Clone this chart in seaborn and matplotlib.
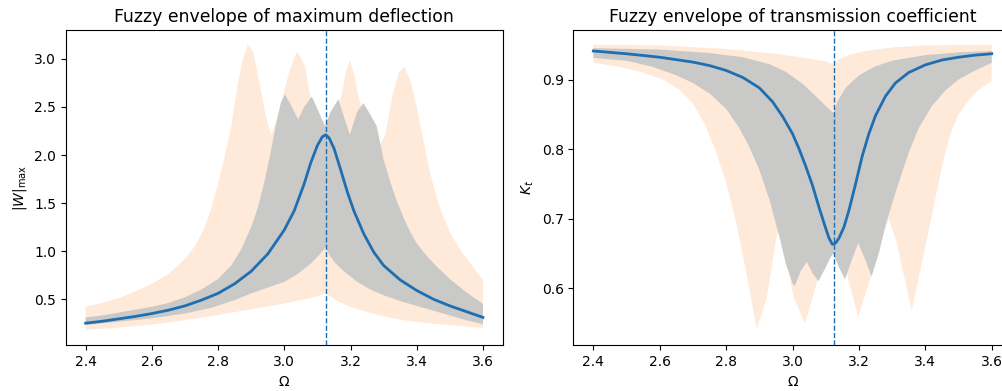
import matplotlib
matplotlib.use("Agg")
import matplotlib.pyplot as plt
import numpy as np
import pandas as pd
import seaborn as sns

# resonance frequency marked by the dashed line
OMEGA_RES = 3.125

# ---- maximum deflection |W|max (left panel) ----
defl_mean_x = [2.40, 2.45, 2.50, 2.55, 2.60, 2.65, 2.70, 2.75, 2.80, 2.85, 2.90, 2.95, 3.00, 3.03,
               3.06, 3.08, 3.10, 3.115, 3.125, 3.135, 3.15, 3.17, 3.19, 3.21, 3.24, 3.27, 3.30,
               3.35, 3.40, 3.45, 3.50, 3.55, 3.60]
defl_mean_y = [0.25, 0.27, 0.295, 0.32, 0.35, 0.385, 0.43, 0.49, 0.56, 0.66, 0.79, 0.97, 1.22, 1.42,
               1.70, 1.92, 2.10, 2.19, 2.21, 2.18, 2.07, 1.85, 1.62, 1.42, 1.18, 0.99, 0.85,
               0.70, 0.59, 0.50, 0.43, 0.37, 0.31]

defl_outer_up_x = [2.40, 2.45, 2.50, 2.55, 2.60, 2.65, 2.70, 2.73, 2.76, 2.78, 2.80, 2.82, 2.84,
                   2.86, 2.875, 2.89, 2.905, 2.917, 2.942, 2.96, 2.985, 3.002, 3.017, 3.039,
                   3.063, 3.078, 3.10, 3.125, 3.15, 3.173, 3.185, 3.198, 3.21, 3.224, 3.25, 3.28,
                   3.304, 3.329, 3.345, 3.362, 3.38, 3.40, 3.42, 3.44, 3.46, 3.48, 3.50, 3.53,
                   3.56, 3.60]
defl_outer_up_y = [0.42, 0.46, 0.51, 0.58, 0.66, 0.76, 0.92, 1.05, 1.25, 1.45, 1.70, 1.98, 2.30,
                   2.75, 3.00, 3.15, 3.08, 2.89, 2.44, 2.20, 2.45, 2.70, 2.89, 3.08,
                   2.92, 2.61, 2.40, 2.30, 2.45, 2.61, 2.85, 2.99, 2.85, 2.61, 2.30, 2.05,
                   2.20, 2.65, 2.85, 2.92, 2.78, 2.50, 2.15, 1.82, 1.56, 1.36, 1.20, 1.02,
                   0.88, 0.70]
defl_outer_lo_x = [2.40, 2.50, 2.60, 2.70, 2.80, 2.90, 2.96, 3.00, 3.05, 3.09, 3.115, 3.125, 3.135,
                   3.16, 3.20, 3.25, 3.30, 3.36, 3.42, 3.50, 3.60]
defl_outer_lo_y = [0.18, 0.205, 0.235, 0.28, 0.335, 0.395, 0.43, 0.455, 0.49, 0.52, 0.55, 0.565, 0.54,
                   0.48, 0.42, 0.365, 0.32, 0.28, 0.255, 0.23, 0.20]

defl_inner_up_x = [2.40, 2.45, 2.50, 2.55, 2.60, 2.65, 2.70, 2.75, 2.80, 2.84, 2.87, 2.90, 2.92,
                   2.94, 2.96, 2.975, 2.99, 3.002, 3.02, 3.042, 3.06, 3.083, 3.10, 3.123, 3.14,
                   3.163, 3.18, 3.198, 3.22, 3.239, 3.26, 3.279, 3.29, 3.30, 3.32, 3.34, 3.36,
                   3.38, 3.40, 3.43, 3.46, 3.50, 3.55, 3.60]
defl_inner_up_y = [0.31, 0.33, 0.36, 0.39, 0.42, 0.46, 0.52, 0.60, 0.71, 0.85, 1.02, 1.25, 1.45,
                   1.72, 2.05, 2.32, 2.55, 2.63, 2.52, 2.37, 2.50, 2.61, 2.48, 2.30, 2.45,
                   2.58, 2.40, 2.21, 2.45, 2.54, 2.42, 2.30, 2.12, 1.95, 1.72, 1.52, 1.35,
                   1.20, 1.08, 0.95, 0.84, 0.71, 0.57, 0.45]
defl_inner_lo_x = [2.40, 2.50, 2.60, 2.70, 2.78, 2.85, 2.90, 2.95, 3.00, 3.04, 3.08, 3.10, 3.115,
                   3.125, 3.135, 3.15, 3.18, 3.22, 3.26, 3.30, 3.35, 3.40, 3.45, 3.50, 3.55, 3.60]
defl_inner_lo_y = [0.23, 0.265, 0.30, 0.35, 0.41, 0.49, 0.56, 0.62, 0.68, 0.76, 0.87, 0.94, 1.00,
                   1.04, 0.97, 0.89, 0.79, 0.68, 0.60, 0.54, 0.48, 0.43, 0.38, 0.33, 0.28, 0.24]

# ---- transmission coefficient Kt (right panel) ----
kt_mean_x = [2.40, 2.50, 2.60, 2.70, 2.75, 2.80, 2.85, 2.90, 2.94, 2.97, 3.00, 3.02, 3.04, 3.06,
             3.08, 3.10, 3.11, 3.12, 3.13, 3.14, 3.155, 3.17, 3.19, 3.21, 3.23, 3.25, 3.28, 3.31,
             3.35, 3.40, 3.45, 3.50, 3.55, 3.60]
kt_mean_y = [0.941, 0.937, 0.932, 0.925, 0.920, 0.913, 0.903, 0.888, 0.868, 0.847, 0.822, 0.800,
             0.775, 0.748, 0.716, 0.686, 0.672, 0.663, 0.665, 0.672, 0.688, 0.712, 0.750, 0.790,
             0.822, 0.848, 0.876, 0.895, 0.910, 0.921, 0.928, 0.932, 0.935, 0.937]

kt_outer_up_x = [2.40, 2.60, 2.80, 2.95, 3.05, 3.10, 3.123, 3.14, 3.17, 3.22, 3.30, 3.40, 3.60]
kt_outer_up_y = [0.950, 0.949, 0.944, 0.937, 0.930, 0.926, 0.922, 0.929, 0.935, 0.941, 0.946,
                 0.949, 0.950]
kt_outer_lo_x = [2.40, 2.48, 2.55, 2.61, 2.66, 2.70, 2.74, 2.77, 2.80, 2.83, 2.86, 2.892, 2.922,
                 2.952, 2.97, 2.99, 3.003, 3.037, 3.073, 3.10, 3.125, 3.15, 3.168, 3.198, 3.233,
                 3.26, 3.29, 3.314, 3.359, 3.38, 3.40, 3.42, 3.44, 3.46, 3.48, 3.50, 3.53, 3.56,
                 3.60]
kt_outer_lo_y = [0.924, 0.918, 0.910, 0.900, 0.885, 0.866, 0.832, 0.795, 0.752, 0.695, 0.625,
                 0.542, 0.585, 0.675, 0.690, 0.620, 0.588, 0.549, 0.607, 0.660, 0.680, 0.650,
                 0.612, 0.559, 0.612, 0.660, 0.700, 0.665, 0.568, 0.615, 0.660, 0.705, 0.752,
                 0.795, 0.828, 0.850, 0.870, 0.885, 0.898]

kt_inner_up_x = [2.40, 2.60, 2.75, 2.85, 2.93, 2.98, 3.03, 3.07, 3.10, 3.123, 3.135, 3.16, 3.20,
                 3.25, 3.30, 3.40, 3.50, 3.60]
kt_inner_up_y = [0.945, 0.943, 0.938, 0.932, 0.922, 0.911, 0.894, 0.876, 0.862, 0.852, 0.868,
                 0.888, 0.906, 0.919, 0.927, 0.935, 0.939, 0.941]
kt_inner_lo_x = [2.40, 2.50, 2.58, 2.65, 2.70, 2.75, 2.80, 2.84, 2.87, 2.90, 2.93, 2.96, 2.98,
                 3.00, 3.007, 3.025, 3.043, 3.06, 3.078, 3.10, 3.113, 3.123, 3.14, 3.158, 3.178,
                 3.198, 3.22, 3.238, 3.26, 3.28, 3.30, 3.32, 3.35, 3.38, 3.42, 3.46, 3.50, 3.55,
                 3.60]
kt_inner_lo_y = [0.931, 0.927, 0.918, 0.906, 0.895, 0.880, 0.858, 0.830, 0.803, 0.770, 0.728,
                 0.675, 0.635, 0.607, 0.603, 0.625, 0.638, 0.622, 0.610, 0.630, 0.643, 0.650,
                 0.630, 0.613, 0.640, 0.665, 0.640, 0.617, 0.650, 0.690, 0.722, 0.752, 0.795,
                 0.830, 0.862, 0.884, 0.900, 0.913, 0.924]

X_TICKS = [2.4, 2.6, 2.8, 3.0, 3.2, 3.4, 3.6]

PEACH = '#ffe9d9'
GRAY = '#c9c9c7'
BLUE = '#1f6fb0'


def fill_band(ax, up_x, up_y, lo_x, lo_y, color, zorder):
    xs = np.concatenate([up_x, lo_x[::-1]])
    ys = np.concatenate([up_y, lo_y[::-1]])
    ax.fill(xs, ys, color=color, lw=0, zorder=zorder)


def draw_panel(ax, mean_x, mean_y, outer, inner, title, ylabel):
    fill_band(ax, *outer, color=PEACH, zorder=1)
    fill_band(ax, *inner, color=GRAY, zorder=2)
    df = pd.DataFrame({'Omega': mean_x, 'value': mean_y})
    sns.lineplot(data=df, x='Omega', y='value', ax=ax, color=BLUE, lw=2, zorder=3)
    ax.axvline(OMEGA_RES, color=BLUE, ls='--', lw=1, zorder=4)
    ax.set_xticks(X_TICKS)
    ax.set_title(title, fontsize=12.4)
    ax.set_xlabel('Ω')
    ax.set_ylabel(ylabel)


def main():
    plt.rcParams['font.family'] = ['DejaVu Sans']
    fig = plt.figure(figsize=(10.03, 3.91), dpi=100)
    ax1 = fig.add_axes([0.0656, 0.117, 0.4357, 0.806])
    ax2 = fig.add_axes([0.5717, 0.117, 0.4369, 0.806])

    draw_panel(ax1, defl_mean_x, defl_mean_y,
               (np.array(defl_outer_up_x), np.array(defl_outer_up_y),
                np.array(defl_outer_lo_x), np.array(defl_outer_lo_y)),
               (np.array(defl_inner_up_x), np.array(defl_inner_up_y),
                np.array(defl_inner_lo_x), np.array(defl_inner_lo_y)),
               'Fuzzy envelope of maximum deflection', r'$|W|_{\max}$')
    ax1.set_yticks([0.5, 1.0, 1.5, 2.0, 2.5, 3.0])

    draw_panel(ax2, kt_mean_x, kt_mean_y,
               (np.array(kt_outer_up_x), np.array(kt_outer_up_y),
                np.array(kt_outer_lo_x), np.array(kt_outer_lo_y)),
               (np.array(kt_inner_up_x), np.array(kt_inner_up_y),
                np.array(kt_inner_lo_x), np.array(kt_inner_lo_y)),
               'Fuzzy envelope of transmission coefficient', r'$K_t$')
    ax2.set_yticks([0.6, 0.7, 0.8, 0.9])

    ax1.set_xlim(2.34, 3.66)
    ax2.set_xlim(2.34, 3.66)
    ax1.set_ylim(0.02, 3.30)
    ax2.set_ylim(0.518, 0.971)

    fig.savefig('out.png', dpi=100)


if __name__ == "__main__":
    main()
